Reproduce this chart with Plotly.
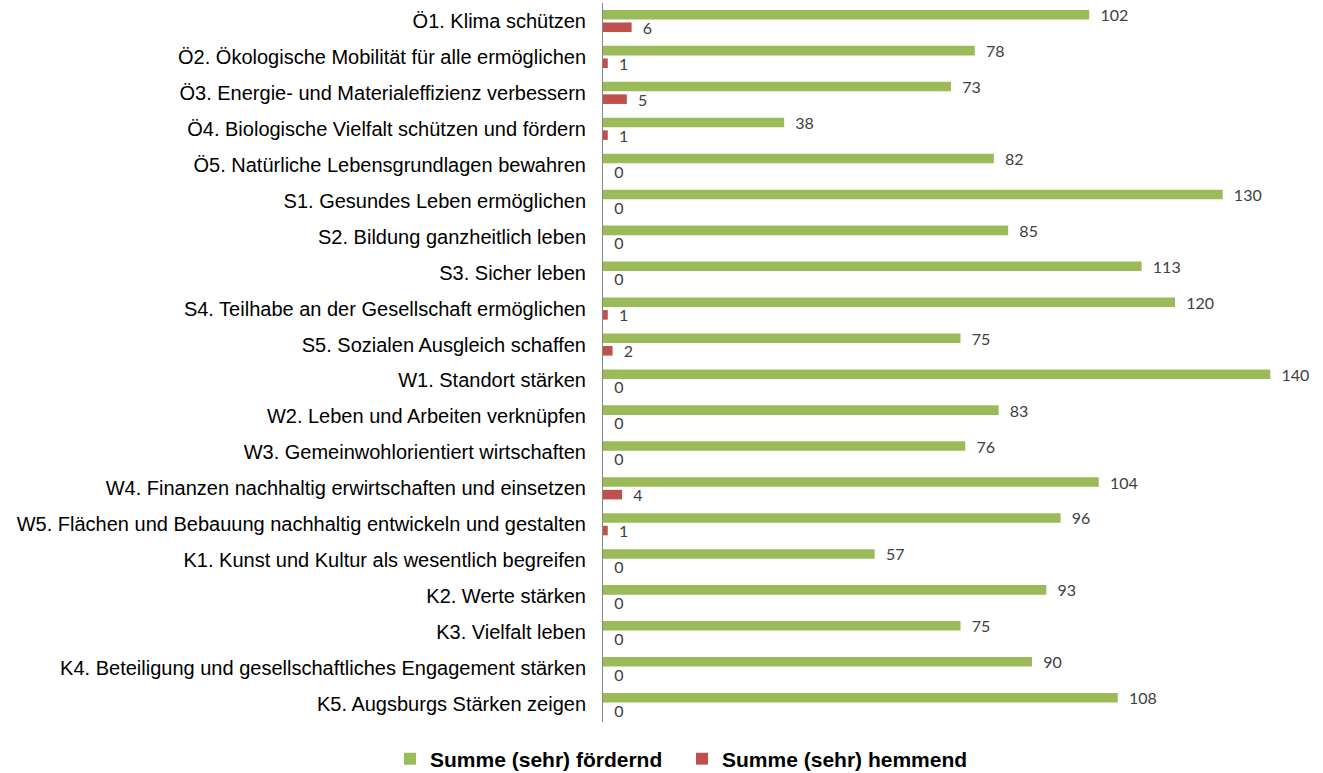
import plotly.graph_objects as go

categories = [
    "Ö1. Klima schützen",
    "Ö2. Ökologische Mobilität für alle ermöglichen",
    "Ö3. Energie- und Materialeffizienz verbessern",
    "Ö4. Biologische Vielfalt schützen und fördern",
    "Ö5. Natürliche Lebensgrundlagen bewahren",
    "S1. Gesundes Leben ermöglichen",
    "S2. Bildung ganzheitlich leben",
    "S3. Sicher leben",
    "S4. Teilhabe an der Gesellschaft ermöglichen",
    "S5. Sozialen Ausgleich schaffen",
    "W1. Standort stärken",
    "W2. Leben und Arbeiten verknüpfen",
    "W3. Gemeinwohlorientiert wirtschaften",
    "W4. Finanzen nachhaltig erwirtschaften und einsetzen",
    "W5. Flächen und Bebauung nachhaltig entwickeln und gestalten",
    "K1. Kunst und Kultur als wesentlich begreifen",
    "K2. Werte stärken",
    "K3. Vielfalt leben",
    "K4. Beteiligung und gesellschaftliches Engagement stärken",
    "K5. Augsburgs Stärken zeigen",
]
foerdernd = [102, 78, 73, 38, 82, 130, 85, 113, 120, 75, 140, 83, 76, 104, 96, 57, 93, 75, 90, 108]
hemmend = [6, 1, 5, 1, 0, 0, 0, 0, 1, 2, 0, 0, 0, 4, 1, 0, 0, 0, 0, 0]

series_names = ["Summe (sehr) fördernd", "Summe (sehr) hemmend"]
colors = ["#9BBB59", "#C0504D"]

fig = go.Figure()
for name, vals, col in zip(series_names, [foerdernd, hemmend], colors):
    fig.add_trace(go.Bar(
        y=categories, x=vals, orientation="h", name=name,
        marker=dict(color=col, line=dict(width=0)),
        text=vals, texttemplate="  %{x}", textposition="outside",
        constraintext="none",
        textfont=dict(family="Lato, Open Sans, sans-serif", size=16, color="#404040"),
        cliponaxis=False,
    ))

fig.update_layout(
    width=1323, height=773,
    barmode="group", bargap=0.3, bargroupgap=0.24,
    plot_bgcolor="white", paper_bgcolor="white",
    margin=dict(l=603, r=5, t=3, b=51, autoexpand=False),
    showlegend=True,
    legend=dict(orientation="h", x=0.2948, xanchor="left", y=0.0181, yanchor="middle",
                xref="container", yref="container",
                font=dict(family="Liberation Sans, Arial, sans-serif", size=21,
                          color="#000000", weight="bold"),
                itemwidth=30, entrywidth=247, traceorder="normal"),
    xaxis=dict(range=[0, 150], showgrid=False, showticklabels=False, zeroline=False,
               showline=False, ticks=""),
    yaxis=dict(range=[19.5, -0.5], showgrid=False, showline=True, linecolor="#868686",
               linewidth=1, ticks="", ticklabelstandoff=12,
               tickfont=dict(family="Liberation Sans, Arial, sans-serif", size=20, color="#000000")),
    font=dict(family="Liberation Sans, Arial, sans-serif"),
)

fig.write_html("out.html", config={"displayModeBar": False},
               post_script="document.body.style.margin='0';")
